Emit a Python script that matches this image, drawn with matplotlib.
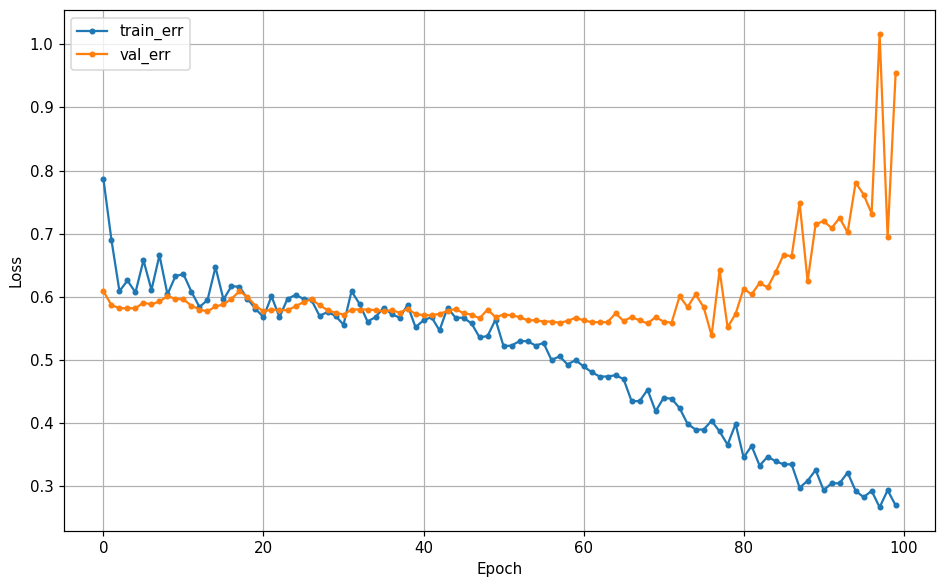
import numpy as np
import matplotlib.pyplot as plt

epochs = list(range(100))

train_err = [
    0.786, 0.690, 0.609, 0.626, 0.607, 0.658, 0.611, 0.666, 0.604, 0.633,
    0.636, 0.608, 0.584, 0.595, 0.647, 0.596, 0.617, 0.616, 0.597, 0.581,
    0.568, 0.601, 0.568, 0.597, 0.603, 0.597, 0.595, 0.570, 0.576, 0.570,
    0.556, 0.609, 0.589, 0.561, 0.568, 0.583, 0.573, 0.567, 0.587, 0.552,
    0.563, 0.568, 0.547, 0.583, 0.567, 0.567, 0.558, 0.536, 0.538, 0.564,
    0.522, 0.523, 0.530, 0.530, 0.523, 0.527, 0.500, 0.506, 0.493, 0.500,
    0.490, 0.481, 0.474, 0.474, 0.476, 0.470, 0.435, 0.435, 0.453, 0.419,
    0.440, 0.439, 0.424, 0.399, 0.390, 0.390, 0.404, 0.387, 0.366, 0.399,
    0.346, 0.364, 0.333, 0.347, 0.340, 0.335, 0.335, 0.298, 0.309, 0.326,
    0.294, 0.305, 0.305, 0.322, 0.293, 0.283, 0.293, 0.267, 0.294, 0.270,
]

val_err = [
    0.609, 0.587, 0.582, 0.582, 0.582, 0.591, 0.588, 0.593, 0.601, 0.597,
    0.596, 0.586, 0.580, 0.577, 0.585, 0.588, 0.597, 0.609, 0.600, 0.586,
    0.577, 0.580, 0.579, 0.579, 0.585, 0.592, 0.596, 0.587, 0.579, 0.575,
    0.572, 0.580, 0.580, 0.580, 0.579, 0.577, 0.579, 0.575, 0.581, 0.573,
    0.571, 0.571, 0.573, 0.578, 0.581, 0.574, 0.572, 0.566, 0.580, 0.568,
    0.572, 0.571, 0.568, 0.563, 0.563, 0.561, 0.561, 0.559, 0.562, 0.567,
    0.563, 0.560, 0.560, 0.560, 0.574, 0.562, 0.568, 0.563, 0.558, 0.568,
    0.561, 0.559, 0.601, 0.584, 0.604, 0.584, 0.539, 0.642, 0.552, 0.573,
    0.613, 0.604, 0.622, 0.615, 0.639, 0.667, 0.664, 0.749, 0.625, 0.715,
    0.720, 0.709, 0.725, 0.702, 0.781, 0.762, 0.732, 1.016, 0.695, 0.954,
]

dpi = 108
fig = plt.figure(figsize=(939 / dpi, 579 / dpi), dpi=dpi)
ax = fig.add_subplot(111)
fig.subplots_adjust(left=0.068, right=0.996, top=0.982, bottom=0.083)

ax.plot(epochs, train_err, marker='.', label='train_err')
ax.plot(epochs, val_err, marker='.', label='val_err')

ax.set_xlabel('Epoch')
ax.set_ylabel('Loss')
ax.legend(loc='upper left')
ax.grid(True)

fig.savefig('out.png', dpi=dpi)
